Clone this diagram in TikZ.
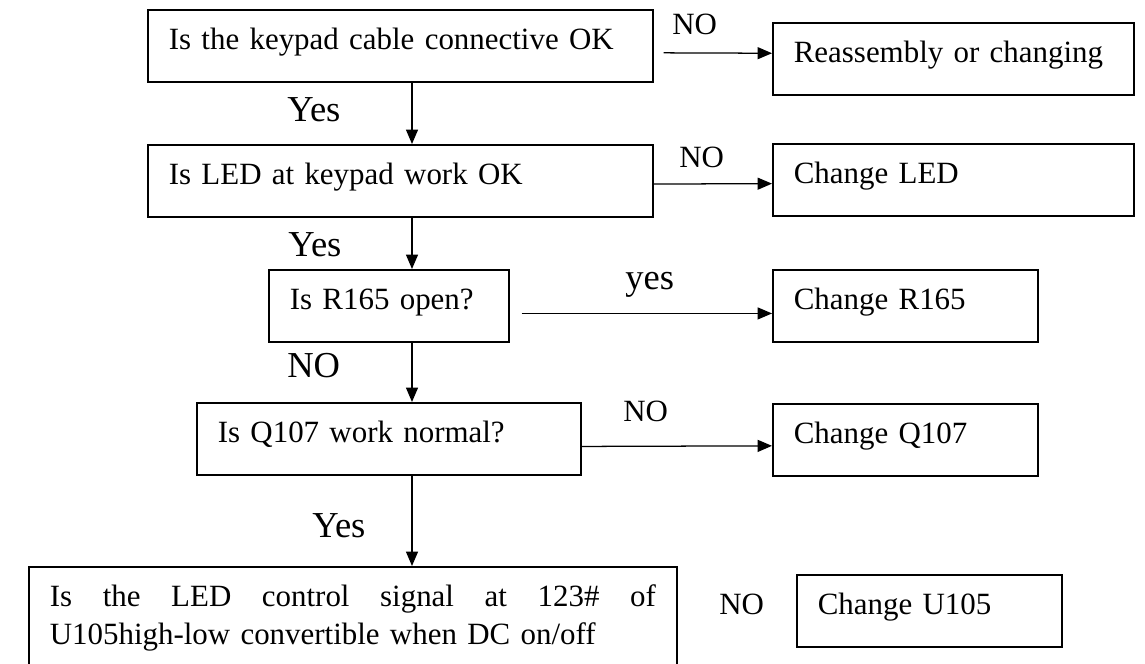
\documentclass[tikz,border=0pt]{standalone}
\usepackage{fontspec}
\setmainfont{Liberation Serif}
\usetikzlibrary{arrows.meta}

\begin{document}
\begin{tikzpicture}[
  box/.style={draw, line width=1.2pt, anchor=north west, inner xsep=0.525cm, inner ysep=0pt,
    minimum height=1.8cm, text height=0.55cm, text depth=0.35cm, align=left,
    font=\fontsize{22}{27}\selectfont},
  lbl/.style={anchor=base west, inner sep=0pt, font=\fontsize{26}{30}\selectfont},
  lblsm/.style={lbl, font=\fontsize{22}{26}\selectfont},
  arr/.style={line width=0.9pt, -{Triangle[length=0.36cm,width=0.3cm]}}]
\useasboundingbox (0,0) rectangle (28.625,-16.6);
\clip (0,0) rectangle (28.625,-16.6);

% left column
\node[box, text width=11.575cm] (keypad) at (3.675,-0.225) {Is the keypad cable connective OK};
\node[box, text width=11.575cm] (ledok) at (3.675,-3.6) {Is LED at keypad work OK};
\node[box, text width=4.95cm] (r165) at (6.7,-6.725) {Is R165 open?};
\node[box, text width=8.55cm] (q107) at (4.9,-10.05) {Is Q107 work normal?};
\node[box, text width=15.15cm, minimum height=3cm, text depth=1.55cm] (signal) at (0.7,-14.15)
  {Is\hfill the\hfill LED\hfill control\hfill signal\hfill at\hfill 123\#\hfill of\\U105high-low convertible when DC on/off};

% right column
\node[box, text width=7.975cm] (reasm) at (19.3,-0.55) {Reassembly or changing};
\node[box, text width=7.975cm] (chgled) at (19.3,-3.575) {Change LED};
\node[box, text width=5.575cm] (chgr) at (19.3,-6.725) {Change R165};
\node[box, text width=5.575cm] (chgq) at (19.3,-10.075) {Change Q107};
\node[box, text width=5.575cm] (chgu) at (19.9,-14.35) {Change U105};

% labels
\node[lbl] (yes1) at (7.175,-3.04) {Yes};
\node[lbl] (yes2) at (7.2,-6.4) {Yes};
\node[lbl] (no3) at (7.175,-9.425) {NO};
\node[lbl] (yes4) at (7.8,-13.425) {Yes};
\node[lblsm] (no1) at (16.8,-0.875) {NO};
\node[lblsm] (no2) at (16.975,-4.2) {NO};
\node[lbl] (yes3) at (15.625,-7.225) {yes};
\node[lblsm] (no4) at (15.575,-10.525) {NO};
\node[lblsm] (no5) at (17.975,-15.36) {NO};

% arrows
\coordinate (spine) at (10.3,0);
\draw[arr] (keypad.south -| spine) -- (ledok.north -| spine);
\draw[arr] (ledok.south -| spine) -- (r165.north -| spine);
\draw[arr] (r165.south -| spine) -- (q107.north -| spine);
\draw[arr] (q107.south -| spine) -- (signal.north -| spine);

\draw[arr] ([shift={(0.25,-0.175)}]keypad.east) -- ([yshift=0.14cm]reasm.west);
\draw[arr] ([yshift=-0.08cm]ledok.east) -- ([yshift=-0.095cm]chgled.west);
\draw[arr] ([shift={(0.3,-0.19)}]r165.east) -- ([yshift=-0.19cm]chgr.west);
\draw[arr] ([yshift=-0.19cm]q107.east) -- ([yshift=-0.15cm]chgq.west);

\end{tikzpicture}
\end{document}
